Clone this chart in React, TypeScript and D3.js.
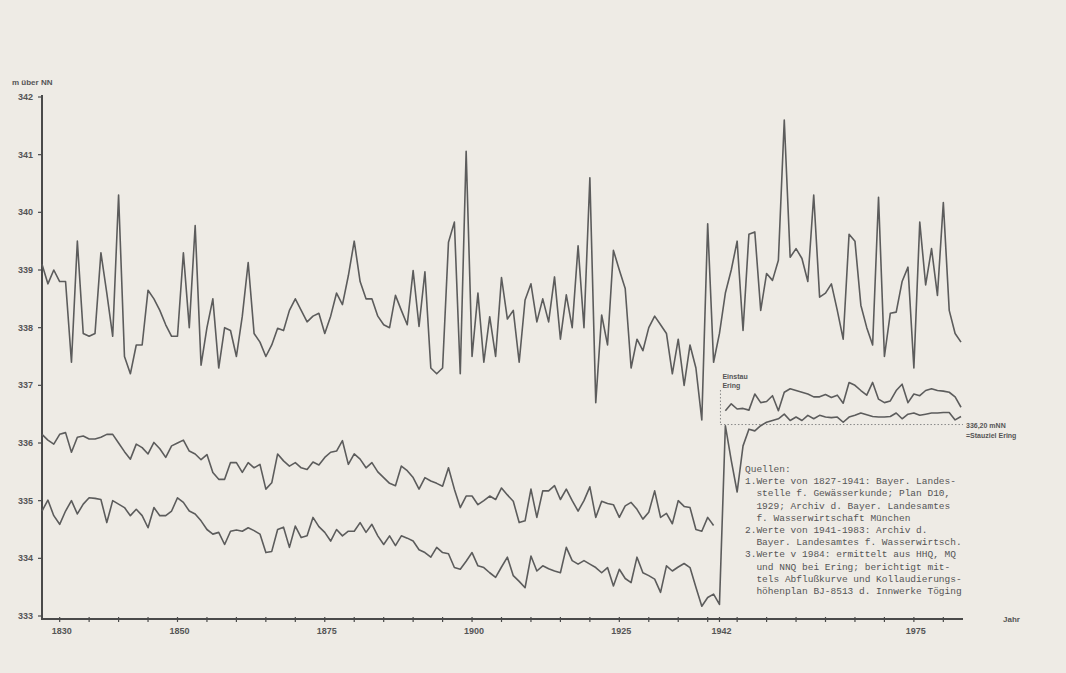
import React from "react";
import * as d3 from "d3";

const START_YEAR = 1827;
const END_YEAR = 1983;

// Höchster Wasserstand (HHW) 1827-1983
const hhwValues = [
  339.1, 338.76, 339.0, 338.8, 338.8, 337.4, 339.5, 337.9, 337.85, 337.9,
  339.3, 338.6, 337.85, 340.3, 337.5, 337.2, 337.7, 337.7, 338.65, 338.5,
  338.3, 338.05, 337.85, 337.85, 339.3, 338.0, 339.77, 337.35, 338.0, 338.5,
  337.3, 338.0, 337.95, 337.5, 338.2, 339.13, 337.9, 337.75, 337.5, 337.7,
  337.99, 337.95, 338.3, 338.5, 338.3, 338.1, 338.2, 338.25, 337.9, 338.2,
  338.6, 338.4, 338.9, 339.5, 338.8, 338.5, 338.5, 338.2, 338.05, 338.0,
  338.56, 338.3, 338.05, 338.99, 338.02, 338.97, 337.3, 337.2, 337.3, 339.48,
  339.83, 337.2, 341.06, 337.5, 338.6, 337.4, 338.19, 337.5, 338.87, 338.15,
  338.3, 337.4, 338.48, 338.76, 338.1, 338.5, 338.1, 338.88, 337.8, 338.57,
  338.0, 339.42, 338.0, 340.6, 336.7, 338.22, 337.7, 339.34, 339.0, 338.68,
  337.3, 337.8, 337.6, 338.0, 338.2, 338.05, 337.9, 337.2, 337.8, 337.0,
  337.7, 337.3, 336.4, 339.8, 337.4, 337.9, 338.6, 339.0, 339.5, 337.95,
  339.62, 339.66, 338.3, 338.94, 338.82, 339.17, 341.6, 339.22, 339.37, 339.2,
  338.8, 340.3, 338.53, 338.6, 338.76, 338.3, 337.8, 339.62, 339.5, 338.39,
  338.0, 337.7, 340.26, 337.5, 338.25, 338.27, 338.8, 339.05, 337.3, 339.83,
  338.74, 339.37, 338.56, 340.17, 338.3, 337.9, 337.75,
];

// Mittlerer Wasserstand 1827-1941
const mwBeforeValues = [
  336.15, 336.05, 335.98, 336.15, 336.18, 335.84, 336.1, 336.12, 336.07, 336.07,
  336.1, 336.15, 336.15, 336.0, 335.85, 335.72, 335.98, 335.92, 335.81, 336.01,
  335.9, 335.75, 335.95, 336.0, 336.05, 335.86, 335.81, 335.71, 335.8, 335.49,
  335.37, 335.37, 335.66, 335.66, 335.49, 335.66, 335.57, 335.63, 335.2, 335.31,
  335.81, 335.69, 335.6, 335.66, 335.57, 335.54, 335.67, 335.62, 335.75, 335.84,
  335.86, 336.04, 335.63, 335.81, 335.72, 335.57, 335.66, 335.5, 335.4, 335.3,
  335.26, 335.6, 335.52, 335.4, 335.2, 335.4, 335.34, 335.3, 335.25, 335.57,
  335.2, 334.88, 335.08, 335.08, 334.93, 335.0, 335.08, 335.02, 335.22, 335.1,
  334.99, 334.62, 334.65, 335.2, 334.71, 335.17, 335.17, 335.26, 335.02, 335.2,
  335.0, 334.82, 335.0, 335.24, 334.71, 334.99, 334.95, 334.93, 334.71, 334.91,
  334.97, 334.85, 334.68, 334.8, 335.17, 334.71, 334.78, 334.6, 335.0, 334.9,
  334.88, 334.5, 334.47, 334.71, 334.57,
];
const MW_AFTER_START = 1943;
// Mittlerer Wasserstand 1943-1983 (nach Einstau)
const mwAfterValues = [
  336.56, 336.68, 336.59, 336.6, 336.57, 336.85, 336.7, 336.72, 336.82, 336.56,
  336.88, 336.94, 336.91, 336.88, 336.85, 336.8, 336.8, 336.84, 336.79, 336.83,
  336.69, 337.05, 337.0, 336.91, 336.83, 337.05, 336.76, 336.7, 336.73, 336.91,
  337.02, 336.7, 336.85, 336.82, 336.91, 336.94, 336.91, 336.9, 336.88, 336.8,
  336.62,
];

// Niedrigster Wasserstand 1827-1983
const nwValues = [
  334.82, 335.01, 334.74, 334.59, 334.82, 335.0, 334.77, 334.94, 335.05, 335.04,
  335.02, 334.62, 335.0, 334.94, 334.88, 334.74, 334.85, 334.74, 334.53, 334.88,
  334.74, 334.74, 334.82, 335.05, 334.97, 334.82, 334.77, 334.65, 334.5, 334.42,
  334.45, 334.24, 334.47, 334.49, 334.47, 334.53, 334.48, 334.42, 334.1, 334.12,
  334.5, 334.54, 334.19, 334.56, 334.36, 334.39, 334.71, 334.55, 334.45, 334.3,
  334.5, 334.39, 334.47, 334.47, 334.62, 334.45, 334.59, 334.39, 334.24, 334.39,
  334.22, 334.39, 334.35, 334.3, 334.15, 334.1, 334.02, 334.19, 334.1, 334.08,
  333.84, 333.81, 333.95, 334.1, 333.87, 333.84, 333.75, 333.67, 333.85, 334.02,
  333.7, 333.6, 333.49, 334.04, 333.78, 333.87, 333.82, 333.78, 333.75, 334.19,
  333.96, 333.9, 333.96, 333.9, 333.84, 333.75, 333.84, 333.52, 333.81, 333.65,
  333.58, 334.02, 333.75, 333.7, 333.64, 333.41, 333.87, 333.78, 333.85, 333.91,
  333.84, 333.5, 333.17, 333.32, 333.38, 333.2,
  336.3, 335.7, 335.15, 335.95, 336.24, 336.21, 336.3, 336.36, 336.39, 336.42,
  336.5, 336.39, 336.45, 336.39, 336.48, 336.42, 336.48, 336.45, 336.44, 336.45,
  336.36, 336.45, 336.48, 336.52, 336.49, 336.46, 336.45, 336.45, 336.46, 336.52,
  336.42, 336.5, 336.52, 336.48, 336.5, 336.52, 336.52, 336.53, 336.53, 336.4,
  336.46,
];

const yTickValues = [333, 334, 335, 336, 337, 338, 339, 340, 341, 342];
const xLabelYears = [1830, 1850, 1875, 1900, 1925, 1942, 1975];
const xMinorTickYears = [
  1830, 1835, 1840, 1845, 1850, 1855, 1860, 1865, 1870, 1875, 1880, 1885, 1890,
  1895, 1900, 1905, 1910, 1915, 1920, 1925, 1930, 1935, 1940, 1942, 1945, 1950,
  1955, 1960, 1965, 1970, 1975, 1980,
];
const EINSTAU_YEAR = 1942;
const stauzielDrawLevel = 336.32;
const stauzielLabel = ["336,20 mNN", "=Stauziel Ering"];
const einstauLabel = ["Einstau", "Ering"];
const yAxisTitle = "m über NN";
const xAxisTitle = "Jahr";
const quellenLines = [
  "Quellen:",
  "1.Werte von 1827-1941: Bayer. Landes-",
  "  stelle f. Gewässerkunde; Plan D10,",
  "  1929; Archiv d. Bayer. Landesamtes",
  "  f. Wasserwirtschaft München",
  "2.Werte von 1941-1983: Archiv d.",
  "  Bayer. Landesamtes f. Wasserwirtsch.",
  "3.Werte v 1984: ermittelt aus HHQ, MQ",
  "  und NNQ bei Ering; berichtigt mit-",
  "  tels Abflußkurve und Kollaudierungs-",
  "  höhenplan BJ-8513 d. Innwerke Töging",
];

type Pt = { year: number; value: number };
const toPts = (start: number, vals: number[]): Pt[] =>
  vals.map((v, i) => ({ year: start + i, value: v }));

export default function App() {
  const W = 1066;
  const H = 673;
  const x = d3.scaleLinear().domain([START_YEAR, END_YEAR]).range([42, 961]);
  const y = d3.scaleLinear().domain([333, 342]).range([616, 97]);
  const line = d3
    .line<Pt>()
    .x((d) => x(d.year))
    .y((d) => y(d.value))
    .curve(d3.curveLinear);

  const hhw = toPts(START_YEAR, hhwValues);
  const mwBefore = toPts(START_YEAR, mwBeforeValues);
  const mwAfter = toPts(MW_AFTER_START, mwAfterValues);
  const nw = toPts(START_YEAR, nwValues);

  const axisY = 619;
  const ink = "#5c5c5c";
  const axisInk = "#4a4a4a";
  const textInk = "#555";
  const lineW = 1.6;
  const sans = "'Liberation Sans', Arial, sans-serif";
  const mono = "'Liberation Mono', 'DejaVu Sans Mono', monospace";

  const xE = x(EINSTAU_YEAR) + 1;
  const yS = y(stauzielDrawLevel);

  return (
    <div style={{ position: "fixed", left: 0, top: 0, width: W, height: H }}>
      <svg width={W} height={H} style={{ display: "block" }}>
        <rect x={0} y={0} width={W} height={H} fill="#eeebe5" />

        {/* y axis */}
        <line x1={42} x2={42} y1={95} y2={axisY} stroke={axisInk} strokeWidth={2} />
        {yTickValues.map((v) => (
          <g key={v}>
            <line x1={38} x2={42} y1={y(v)} y2={y(v)} stroke={axisInk} strokeWidth={1.2} />
            <text
              x={33}
              y={y(v)}
              dy="0.35em"
              textAnchor="end"
              fontFamily={sans}
              fontWeight="bold"
              fontSize={9}
              fill={textInk}
            >
              {v}
            </text>
          </g>
        ))}
        <text x={12} y={85} fontFamily={sans} fontWeight="bold" fontSize={8} fill={textInk}>
          {yAxisTitle}
        </text>

        {/* x axis */}
        <line x1={41} x2={963} y1={axisY} y2={axisY} stroke={axisInk} strokeWidth={2} />
        {xMinorTickYears.map((yr) => (
          <line
            key={yr}
            x1={x(yr)}
            x2={x(yr)}
            y1={axisY - 2}
            y2={axisY + 3}
            stroke={axisInk}
            strokeWidth={1.2}
          />
        ))}
        {xLabelYears.map((yr) => (
          <text
            key={yr}
            x={x(yr) + 2}
            y={634}
            textAnchor="middle"
            fontFamily={sans}
            fontWeight="bold"
            fontSize={9}
            fill={textInk}
          >
            {yr}
          </text>
        ))}
        <text x={1003} y={622} fontFamily={sans} fontWeight="bold" fontSize={8} fill={textInk}>
          {xAxisTitle}
        </text>

        {/* Einstau marker and Stauziel */}
        <line
          x1={xE}
          x2={xE}
          y1={390}
          y2={yS}
          stroke="#888"
          strokeWidth={1}
          strokeDasharray="1.5,2"
        />
        <line
          x1={xE}
          x2={963}
          y1={yS}
          y2={yS}
          stroke="#888"
          strokeWidth={1}
          strokeDasharray="1.5,2"
        />
        {einstauLabel.map((t, i) => (
          <text
            key={t}
            x={x(EINSTAU_YEAR) + 3}
            y={379 + i * 9}
            fontFamily={sans}
            fontWeight="bold"
            fontSize={7}
            fill={textInk}
          >
            {t}
          </text>
        ))}
        {stauzielLabel.map((t, i) => (
          <text
            key={t}
            x={966}
            y={yS + 3 + i * 10}
            fontFamily={sans}
            fontWeight="bold"
            fontSize={7}
            fill={textInk}
          >
            {t}
          </text>
        ))}

        {/* series */}
        <path d={line(hhw) ?? ""} fill="none" stroke={ink} strokeWidth={lineW} strokeLinejoin="round" />
        <path d={line(mwBefore) ?? ""} fill="none" stroke={ink} strokeWidth={lineW} strokeLinejoin="round" />
        <path d={line(mwAfter) ?? ""} fill="none" stroke={ink} strokeWidth={lineW} strokeLinejoin="round" />
        <path d={line(nw) ?? ""} fill="none" stroke={ink} strokeWidth={lineW} strokeLinejoin="round" />

        {/* sources */}
        {quellenLines.map((t, i) => (
          <text
            key={i}
            x={745}
            y={472 + i * 12.2}
            fontFamily={mono}
            fontSize={9.5}
            fill={textInk}
            style={{ whiteSpace: "pre" }}
          >
            {t}
          </text>
        ))}
      </svg>
    </div>
  );
}
